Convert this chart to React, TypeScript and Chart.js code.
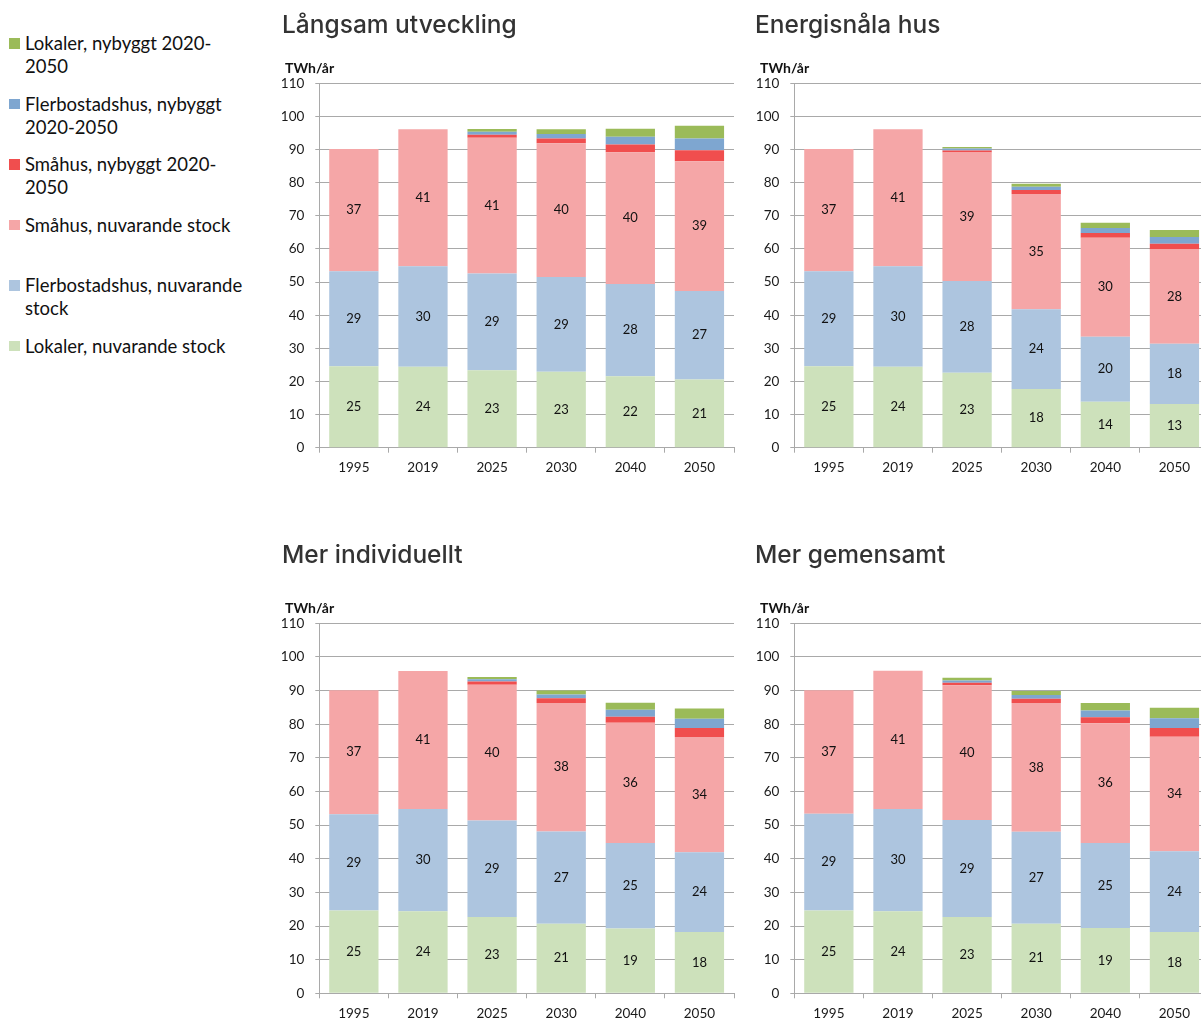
import React, { useEffect, useRef } from "react";
import { Chart, registerables } from "chart.js";

Chart.register(...registerables);

// ---------- categories, series, ticks ----------
const years = ["1995", "2019", "2025", "2030", "2040", "2050"];
const seriesNames = [
  "Lokaler, nuvarande stock",
  "Flerbostadshus, nuvarande stock",
  "Småhus, nuvarande stock",
  "Småhus, nybyggt 2020-2050",
  "Flerbostadshus, nybyggt 2020-2050",
  "Lokaler, nybyggt 2020-2050",
];
const seriesColors = ["#CDE1BB", "#ADC5DF", "#F5A6A7", "#F04E4E", "#7EA6D0", "#9BBB59"];
const labeledSeries = [0, 1, 2];
const yMin = 0;
const yMax = 110;
const yStep = 10;
const unitLabel = "TWh/år";
const titles = ["Långsam utveckling", "Energisnåla hus", "Mer individuellt", "Mer gemensamt"];

// Långsam utveckling
const langsamLokalerStock = [24.6, 24.4, 23.4, 22.9, 21.6, 20.6];
const langsamFlerStock = [28.7, 30.4, 29.2, 28.6, 27.8, 26.7];
const langsamSmahusStock = [36.9, 41.3, 41.0, 40.4, 39.8, 39.2];
const langsamSmahusNy = [0, 0, 0.9, 1.4, 2.3, 3.3];
const langsamFlerNy = [0, 0, 0.9, 1.4, 2.4, 3.5];
const langsamLokalerNy = [0, 0, 0.8, 1.4, 2.4, 3.9];

// Energisnåla hus
const energiLokalerStock = [24.6, 24.4, 22.6, 17.7, 13.9, 13.2];
const energiFlerStock = [28.7, 30.4, 27.7, 24.1, 19.6, 18.2];
const energiSmahusStock = [36.9, 41.3, 38.8, 34.8, 29.9, 28.4];
const energiSmahusNy = [0, 0, 0.6, 1.2, 1.4, 1.8];
const energiFlerNy = [0, 0, 0.6, 1.0, 1.5, 2.0];
const energiLokalerNy = [0, 0, 0.5, 0.9, 1.6, 2.1];

// Mer individuellt
const indivLokalerStock = [24.6, 24.4, 22.7, 20.7, 19.3, 18.2];
const indivFlerStock = [28.6, 30.4, 28.7, 27.4, 25.4, 23.7];
const indivSmahusStock = [36.9, 41.0, 40.3, 38.2, 35.7, 34.3];
const indivSmahusNy = [0, 0, 1.0, 1.4, 1.8, 2.7];
const indivFlerNy = [0, 0, 0.7, 1.1, 2.1, 2.7];
const indivLokalerNy = [0, 0, 0.6, 1.2, 2.1, 3.1];

// Mer gemensamt
const gemLokalerStock = [24.6, 24.4, 22.7, 20.7, 19.4, 18.2];
const gemFlerStock = [28.8, 30.4, 28.8, 27.3, 25.3, 24.0];
const gemSmahusStock = [36.7, 41.1, 40.1, 38.3, 35.6, 34.1];
const gemSmahusNy = [0, 0, 0.7, 1.3, 1.8, 2.6];
const gemFlerNy = [0, 0, 0.7, 1.1, 2.0, 2.9];
const gemLokalerNy = [0, 0, 0.8, 1.2, 2.2, 3.1];

const scenarioSeries = [
  [langsamLokalerStock, langsamFlerStock, langsamSmahusStock, langsamSmahusNy, langsamFlerNy, langsamLokalerNy],
  [energiLokalerStock, energiFlerStock, energiSmahusStock, energiSmahusNy, energiFlerNy, energiLokalerNy],
  [indivLokalerStock, indivFlerStock, indivSmahusStock, indivSmahusNy, indivFlerNy, indivLokalerNy],
  [gemLokalerStock, gemFlerStock, gemSmahusStock, gemSmahusNy, gemFlerNy, gemLokalerNy],
];

// ---------- layout ----------
const panelLayouts = [
  { left: 270, top: 0, width: 470, height: 490, titleGap: 42.9, xAxisHeight: 42.3, padLeft: 12, yWidth: 37.3 },
  { left: 745, top: 0, width: 470, height: 490, titleGap: 42.9, xAxisHeight: 42.3, padLeft: 10, yWidth: 39.3 },
  { left: 270, top: 530, width: 470, height: 489, titleGap: 52.9, xAxisHeight: 25.7, padLeft: 12, yWidth: 37.3 },
  { left: 745, top: 530, width: 470, height: 489, titleGap: 52.9, xAxisHeight: 25.7, padLeft: 10, yWidth: 39.3 },
];

const FONT = 'Lato, "Open Sans", sans-serif';
const GRID = "#a9a9a9";

const valueLabels = {
  id: "valueLabels",
  afterDatasetsDraw(chart: any) {
    const ctx = chart.ctx;
    ctx.save();
    ctx.font = `13px ${FONT}`;
    ctx.fillStyle = "#111";
    ctx.textAlign = "center";
    ctx.textBaseline = "middle";
    labeledSeries.forEach((di) => {
      const meta = chart.getDatasetMeta(di);
      meta.data.forEach((el: any, i: number) => {
        const v = chart.data.datasets[di].data[i];
        if (!v) return;
        const p = el.getProps(["x", "y", "base"], true);
        ctx.fillText(String(Math.round(v)), p.x, (p.y + p.base) / 2);
      });
    });
    ctx.restore();
  },
};

const unitText = {
  id: "unitText",
  afterDraw(chart: any) {
    const ctx = chart.ctx;
    const a = chart.chartArea;
    ctx.save();
    ctx.font = `bold 14px ${FONT}`;
    ctx.fillStyle = "#111";
    ctx.textAlign = "left";
    ctx.textBaseline = "middle";
    ctx.fillText(unitLabel, a.left - 34.3, a.top - 14.5);
    ctx.restore();
  },
};

function Panel({ index }: { index: number }) {
  const ref = useRef<HTMLCanvasElement>(null);
  const lay = panelLayouts[index];
  useEffect(() => {
    const chart = new Chart(ref.current as HTMLCanvasElement, {
      type: "bar",
      data: {
        labels: years,
        datasets: scenarioSeries[index].map((d, i) => ({
          label: seriesNames[i],
          data: d,
          backgroundColor: seriesColors[i],
          borderWidth: 0,
          barPercentage: 0.713,
          categoryPercentage: 1,
        })),
      },
      options: {
        responsive: false,
        animation: false,
        devicePixelRatio: 1,
        layout: { padding: { left: lay.padLeft, right: 6, top: 0, bottom: 0 } },
        plugins: {
          legend: { display: false },
          tooltip: { enabled: false },
          title: {
            display: true,
            text: titles[index],
            align: "start",
            color: "#333",
            font: { family: 'Inter, "Open Sans", sans-serif', size: 24.5, weight: "500" },
            padding: { top: 11, bottom: lay.titleGap },
          },
        },
        scales: {
          x: {
            stacked: true,
            offset: true,
            grid: { display: true, drawOnChartArea: false, drawTicks: true, tickLength: 5, color: GRID, offset: true },
            border: { display: true, color: GRID },
            ticks: { color: "#1a1a1a", font: { family: FONT, size: 13.5 }, padding: 7, maxRotation: 0 },
            afterFit: (s: any) => {
              s.height = lay.xAxisHeight;
            },
          },
          y: {
            stacked: true,
            min: yMin,
            max: yMax,
            ticks: { stepSize: yStep, padding: 11, color: "#1a1a1a", font: { family: FONT, size: 13.5 } },
            grid: { color: GRID, tickLength: 4, drawTicks: true },
            border: { display: true, color: GRID },
            afterFit: (s: any) => {
              s.width = lay.yWidth;
            },
          },
        },
      } as any,
      plugins: [valueLabels, unitText],
    });
    return () => chart.destroy();
  }, [index]);
  return (
    <canvas
      ref={ref}
      width={lay.width}
      height={lay.height}
      style={{ position: "absolute", left: lay.left, top: lay.top, width: lay.width, height: lay.height }}
    />
  );
}

const legendOrder = [5, 4, 3, 2, 1, 0];

function Legend() {
  return (
    <div>
      {legendOrder.map((si, k) => (
        <div
          key={si}
          style={{
            position: "absolute",
            left: 0,
            top: 32.1 + k * 60.5,
            width: 260,
          }}
        >
          <div
            style={{
              position: "absolute",
              left: 9,
              top: 6.2,
              width: 10.5,
              height: 10.5,
              background: seriesColors[si],
            }}
          />
          <div
            style={{
              position: "absolute",
              left: 25,
              top: 0,
              width: 226,
              fontFamily: FONT,
              fontSize: 18.5,
              lineHeight: "23px",
              color: "#111",
            }}
          >
            {seriesNames[si]}
          </div>
        </div>
      ))}
    </div>
  );
}

export default function App() {
  return (
    <div
      style={{
        position: "fixed",
        left: 0,
        top: 0,
        width: 1201,
        height: 1019,
        overflow: "hidden",
        background: "#fff",
      }}
    >
      <Legend />
      {panelLayouts.map((_, i) => (
        <Panel key={i} index={i} />
      ))}
    </div>
  );
}
